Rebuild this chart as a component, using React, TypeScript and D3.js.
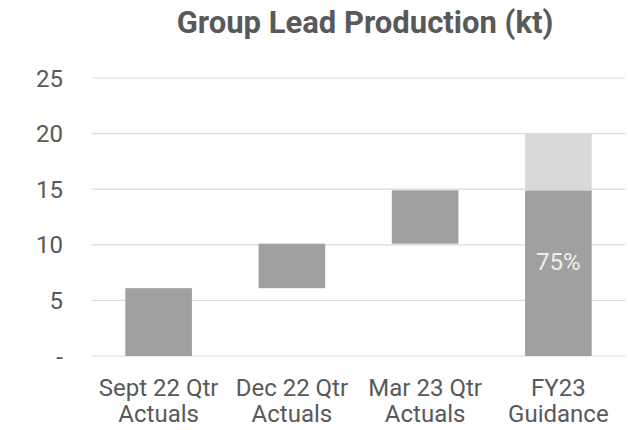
import React from "react";
import * as d3 from "d3";

const categories = ["Sept 22 Qtr|Actuals", "Dec 22 Qtr|Actuals", "Mar 23 Qtr|Actuals", "FY23|Guidance"];
const baseValues = [0, 6.1, 10.1, 0];
const barValues = [6.1, 4.0, 4.8, 14.9];
const remainderValues = [0, 0, 0, 5.1];
const yTicks = [0, 5, 10, 15, 20, 25];
const barLabels = ["", "", "", "75%"];

const W = 628;
const H = 430;
const FONT = "Roboto, 'DejaVu Sans', sans-serif";

export default function App() {
  const left = 92, right = 625, top = 78, bottom = 356;
  const x = d3.scaleBand().domain(categories).range([left, right]).paddingInner(0.5).paddingOuter(0.25);
  const y = d3.scaleLinear().domain([0, 25]).range([bottom, top]);
  const textColor = "#595959";
  return (
    <svg width={W} height={H} style={{ position: "absolute", left: 0, top: 0 }} fontFamily={FONT}>
      <rect width={W} height={H} fill="#fff" />
      <text x={365} y={33} textAnchor="middle" fontSize={31} fontWeight="bold" fill={textColor}>
        Group Lead Production (kt)
      </text>
      {yTicks.map((t) => (
        <g key={t}>
          <line x1={left} x2={right} y1={y(t)} y2={y(t)} stroke="#d9d9d9" strokeWidth={1.2} />
          <text x={63} y={y(t)} dy="0.36em" textAnchor="end" fontSize={24} fill={textColor}>
            {t === 0 ? "-" : t}
          </text>
        </g>
      ))}
      {categories.map((c, i) => (
        <g key={c}>
          <rect x={x(c)} width={x.bandwidth()} y={y(baseValues[i] + barValues[i])}
            height={y(baseValues[i]) - y(baseValues[i] + barValues[i])} fill="#a0a0a2" />
          {remainderValues[i] > 0 && (
            <rect x={x(c)} width={x.bandwidth()}
              y={y(baseValues[i] + barValues[i] + remainderValues[i])}
              height={y(baseValues[i] + barValues[i]) - y(baseValues[i] + barValues[i] + remainderValues[i])}
              fill="#d9d9db" />
          )}
          {barLabels[i] && (
            <text x={x(c)! + x.bandwidth() / 2} y={270}
              textAnchor="middle" fontSize={24} fill="#f2efe4">{barLabels[i]}</text>
          )}
          {c.split("|").map((line, k) => (
            <text key={k} x={x(c)! + x.bandwidth() / 2} y={396 + k * 26} textAnchor="middle" fontSize={24} fill={textColor}>
              {line}
            </text>
          ))}
        </g>
      ))}
    </svg>
  );
}
